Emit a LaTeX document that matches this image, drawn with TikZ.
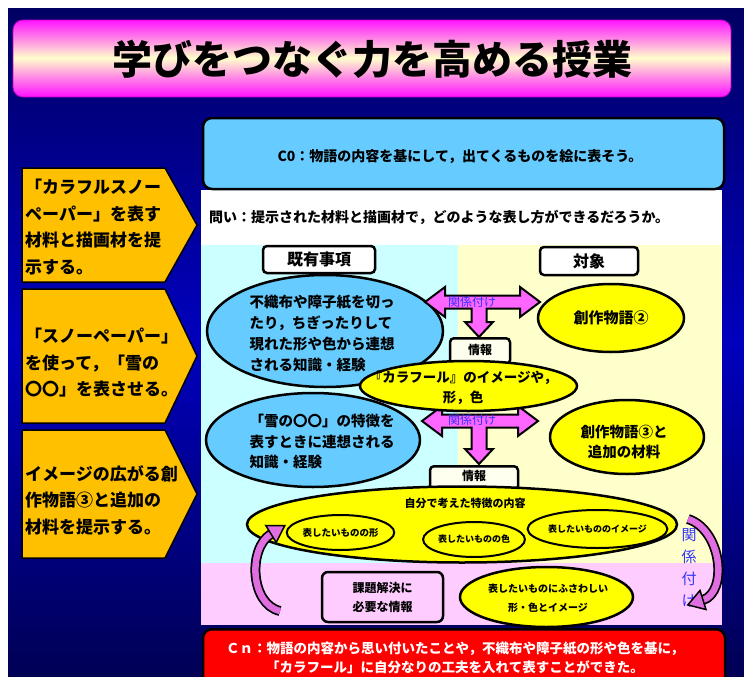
\documentclass[tikz,border=0pt]{standalone}
\usepackage{fontspec}
\newfontfamily\jp{Noto Sans CJK JP}
\usetikzlibrary{shapes.geometric}
\definecolor{navyA}{RGB}{0,0,100}
\definecolor{navyB}{RGB}{0,0,190}
\definecolor{navyC}{RGB}{0,0,85}
\definecolor{tmag}{RGB}{255,20,255}
\definecolor{tyel}{RGB}{255,255,204}
\definecolor{skyb}{RGB}{102,204,255}
\definecolor{lcyan}{RGB}{204,255,255}
\definecolor{lyel}{RGB}{255,255,204}
\definecolor{lpink}{RGB}{255,204,255}
\definecolor{gold}{RGB}{255,192,0}
\definecolor{ayel}{RGB}{255,255,0}
\definecolor{apink}{RGB}{255,102,255}
\definecolor{cpink}{RGB}{225,110,225}
\definecolor{lblue}{RGB}{51,51,255}
\tikzset{
  pent/.style={fill=gold, draw=black, line width=1.5pt, line join=miter},
  lefttxt/.style={anchor=west, align=left, inner sep=0pt, font=\jp\bfseries\fontsize{17pt}{26.5pt}\selectfont},
  blueell/.style={ellipse, fill=skyb, draw=black, line width=2.5pt, inner sep=0pt},
  yelell/.style={ellipse, fill=ayel, draw=black, line width=2.5pt, inner sep=0pt},
  tagbox/.style={rectangle, rounded corners=4pt, fill=white, draw=black, line width=2.5pt, inner sep=0pt},
  blockarrow/.style={fill=apink, draw=black, line width=2pt, line join=miter},
  reltxt/.style={text=lblue, font=\jp\fontsize{12pt}{12pt}\selectfont, inner sep=0pt},
  curvshaft/.style={line width=10pt, draw=black},
  curvfill/.style={line width=6.5pt, draw=cpink},
  curvhead/.style={fill=cpink, draw=black, line width=1.5pt, line join=miter},
}
\begin{document}
\begin{tikzpicture}[x=1pt,y=-1pt]
\useasboundingbox (0,0) rectangle (744,677);
\clip (0,0) rectangle (744,677);
\fill[white] (0,0) rectangle (744,677);
% navy panel: vertical gradient built from strips
\foreach \i in {0,...,133} {
  \pgfmathsetmacro\t{\i/133}
  \ifdim\t pt<0.5pt
    \pgfmathsetmacro\p{\t*200}
    \fill[navyB!\p!navyA] (8,{8+5*\i}) rectangle (744,{14+5*\i});
  \else
    \pgfmathsetmacro\p{(1-\t)*200}
    \fill[navyB!\p!navyC] (8,{8+5*\i}) rectangle (744,{14+5*\i});
  \fi
}
% title box: magenta - pale yellow - magenta
\begin{scope}
\clip[rounded corners=10pt] (13,20) rectangle (731,97);
\foreach \i in {0,...,76} {
  \pgfmathsetmacro\p{min(100,abs(\i-38)/38*100)}
  \fill[tmag!\p!tyel] (13,{20+\i}) rectangle (731,{21.3+\i});
}
\end{scope}
\draw[rounded corners=10pt, draw={rgb,255:red,200;green,0;blue,200}, line width=0.8pt] (13,20) rectangle (731,97);
\node[font=\jp\bfseries\fontsize{40pt}{40pt}\selectfont, inner sep=0pt] (title) at (372,59) {学びをつなぐ力を高める授業};

% left pentagon arrows
\draw[pent] (22,168) -- (165,168) -- (197,225) -- (165,282) -- (22,282) -- cycle;
\draw[pent] (22,289) -- (165,289) -- (197,356) -- (165,423) -- (22,423) -- cycle;
\draw[pent] (22,430) -- (165,430) -- (197,494) -- (165,558) -- (22,558) -- cycle;
\node[lefttxt] (l1) at (25,227) {「カラフルスノー\\ペーパー」を表す\\材料と描画材を提\\示する。};
\node[lefttxt] (l2) at (25,363) {「スノーペーパー」\\を使って，「雪の\\〇〇」を表させる。};
\node[lefttxt] (l3) at (25,500) {イメージの広がる創\\作物語③と追加の\\材料を提示する。};

% regions
\fill[white] (201,190) rectangle (722,245);
\fill[lcyan] (201,245) rectangle (458,563);
\fill[lyel] (458,245) rectangle (722,563);
\fill[lpink] (201,563) rectangle (722,625);

% C0 box
\node[rectangle, rounded corners=9pt, fill=skyb, draw=black, line width=2.5pt,
      minimum width=521pt, minimum height=71pt, inner sep=0pt] (co) at (463.5,153.5) {};
\node[font=\jp\bfseries\fontsize{14pt}{14pt}\selectfont, inner sep=0pt] (cotxt) at (460,157) {C0：物語の内容を基にして，出てくるものを絵に表そう。};
\node[font=\jp\bfseries\fontsize{14pt}{14pt}\selectfont, inner sep=0pt, anchor=west] (toi) at (209,217) {問い：提示された材料と描画材で，どのような表し方ができるだろうか。};

% Cn box
\node[rectangle, rounded corners=9pt, fill=red, draw=black, line width=2.5pt,
      minimum width=522pt, minimum height=70pt, inner sep=0pt, anchor=north] (cn) at (464,628) {};
\node[text=white, align=center, font=\jp\bfseries\fontsize{13.5pt}{19pt}\selectfont, inner sep=0pt] (cntxt) at (455,657.5)
  {Ｃｎ：物語の内容から思い付いたことや，不織布や障子紙の形や色を基に，\\「カラフール」に自分なりの工夫を入れて表すことができた。};

% tag boxes
\node[tagbox, minimum width=112pt, minimum height=27pt, font=\jp\bfseries\fontsize{16pt}{16pt}\selectfont] (kiyu) at (319,259.5) {既有事項};
\node[tagbox, minimum width=98pt, minimum height=28pt, font=\jp\bfseries\fontsize{16pt}{16pt}\selectfont] (taisho) at (589,261) {対象};

% blue ellipses
\node[blueell, minimum width=236pt, minimum height=112pt] (b1) at (325,331) {};
\node[align=left, inner sep=0pt, font=\jp\bfseries\fontsize{14.5pt}{21pt}\selectfont] (b1t) at (322,333.5)
  {不織布や障子紙を切っ\\たり，ちぎったりして\\現れた形や色から連想\\される知識・経験};
\node[blueell, minimum width=214pt, minimum height=94pt] (b2) at (313,440) {};
\node[align=left, inner sep=0pt, font=\jp\bfseries\fontsize{14.5pt}{20.5pt}\selectfont] (b2t) at (322,442)
  {「雪の〇〇」の特徴を\\表すときに連想される\\知識・経験};

% block arrows
\coordinate (a1l) at (425,302);
\coordinate (a1r) at (540,302);
\coordinate (a1d) at (479,337);
\draw[blockarrow] (a1l) -- (445,287) -- (445,295.5) -- (520,295.5) -- (520,287) -- (a1r) -- (520,317) -- (520,308.5)
  -- (486.5,308.5) -- (486.5,322) -- (493,322) -- (a1d) -- (465,322) -- (471.5,322) -- (471.5,308.5)
  -- (445,308.5) -- (445,317) -- cycle;
\coordinate (a2l) at (422,421);
\coordinate (a2r) at (538,421);
\coordinate (a2d) at (479,464);
\draw[blockarrow] (a2l) -- (442,406) -- (442,414.5) -- (518,414.5) -- (518,406) -- (a2r) -- (518,436) -- (518,427.5)
  -- (486.5,427.5) -- (486.5,449) -- (493,449) -- (a2d) -- (465,449) -- (471.5,449) -- (471.5,427.5)
  -- (442,427.5) -- (442,436) -- cycle;

% info boxes
\node[tagbox, fill={rgb,255:red,255;green,255;blue,240}, minimum width=60pt, minimum height=26pt, anchor=north] (info1) at (480,337) {};
\node[font=\jp\bfseries\fontsize{12pt}{12pt}\selectfont, inner sep=0pt] (info1t) at (480,349.5) {情報};
\node[tagbox, fill={rgb,255:red,255;green,255;blue,240}, minimum width=88pt, minimum height=24pt, anchor=north] (info2) at (474,465) {};
\node[font=\jp\bfseries\fontsize{12pt}{12pt}\selectfont, inner sep=0pt] (info2t) at (474,476) {情報};

% yellow ellipses
\node[yelell, minimum width=217pt, minimum height=50pt] (karaf) at (468.5,386) {};
\node[align=center, inner sep=0pt, font=\jp\bfseries\fontsize{13.5pt}{20pt}\selectfont] (karaft) at (463,388) {『カラフール』のイメージや，\\形，色};
\node[yelell, minimum width=146pt, minimum height=68pt, font=\jp\bfseries\fontsize{15pt}{15pt}\selectfont] (sou2) at (611,318) {創作物語②};
\node[yelell, minimum width=154pt, minimum height=74pt] (sou3) at (627,437) {};
\node[align=center, inner sep=0pt, font=\jp\bfseries\fontsize{14.5pt}{20pt}\selectfont] (sou3t) at (624,442) {創作物語③と\\追加の材料};

\node[reltxt] (rel1) at (472,302) {関係付け};
\node[reltxt] (rel2) at (472,420) {関係付け};

% big ellipse
\node[yelell, minimum width=430pt, minimum height=76pt] (big) at (462,524.5) {};
\node[font=\jp\bfseries\fontsize{11pt}{11pt}\selectfont, inner sep=0pt] (bigt) at (465,503) {自分で考えた特徴の内容};
\node[yelell, line width=2pt, minimum width=105pt, minimum height=35pt, font=\jp\bfseries\fontsize{9.5pt}{9.5pt}\selectfont] (ka) at (340.5,532.5) {表したいものの形};
\node[yelell, line width=2pt, minimum width=98pt, minimum height=35pt, font=\jp\bfseries\fontsize{9pt}{9pt}\selectfont] (iro) at (474,539.5) {表したいものの色};
\node[yelell, line width=2pt, minimum width=139pt, minimum height=38pt, font=\jp\bfseries\fontsize{9pt}{9pt}\selectfont] (img) at (597.5,529) {表したいもののイメージ};

% bottom pink region items
\node[rectangle, rounded corners=6pt, fill=lpink, draw=black, line width=2.5pt, minimum width=121pt, minimum height=50pt,
      align=center, inner sep=0pt, font=\jp\bfseries\fontsize{12pt}{19pt}\selectfont] (kadai) at (382.5,597) {課題解決に\\必要な情報};
\node[yelell, minimum width=173pt, minimum height=60pt] (fusa) at (546.5,597) {};
\node[align=center, inner sep=0pt, font=\jp\bfseries\fontsize{10pt}{19pt}\selectfont] (fusat) at (548,598) {表したいものにふさわしい\\形・色とイメージ};

% vertical label
\node[text=lblue, align=center, inner sep=0pt, font=\jp\fontsize{15pt}{22pt}\selectfont] (rel3) at (689,568) {関\\係\\付\\け};

% curved arrows
\coordinate (cl0) at (280,611);
\coordinate (cl1) at (271,534);
\draw[curvshaft] (cl0) .. controls (250,604) and (248,548) .. (cl1);
\draw[curvfill] (cl0) .. controls (250,604) and (248,548) .. (cl1);
\draw[curvhead] (276.2,542.5) -- (284.7,525.7) -- (265.8,525.5) -- cycle;

\coordinate (cr0) at (688,519);
\coordinate (cr1) at (703,600);
\draw[curvshaft] (cr0) .. controls (722,530) and (728,592) .. (cr1);
\draw[curvfill] (cr0) .. controls (722,530) and (728,592) .. (cr1);
\draw[curvhead] (706,609.5) -- (687.8,604.9) -- (700,590.5) -- cycle;
\end{tikzpicture}
\end{document}
